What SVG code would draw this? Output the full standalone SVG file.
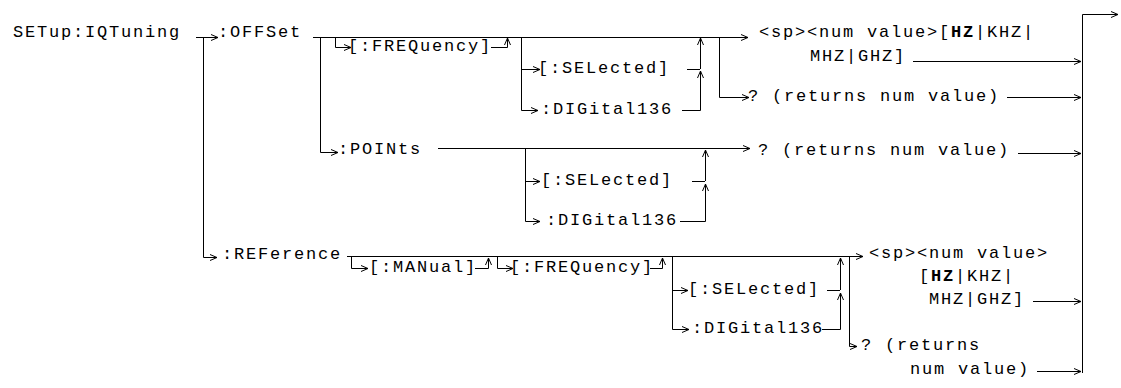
<svg xmlns="http://www.w3.org/2000/svg" width="1121" height="388" viewBox="0 0 1121 388">
<style>
text{font-family:"Liberation Mono","Courier New",monospace;font-size:17px;letter-spacing:1.8px;fill:#000}
.c path{fill:none;stroke:#000;stroke-width:1}
.b{font-weight:bold}
</style>
<defs>
<marker id="a" markerUnits="userSpaceOnUse" markerWidth="10" markerHeight="10" refX="7" refY="3.5" orient="auto">
<path d="M0,0.5 L7,3.5 L0,6.5" fill="none" stroke="#000" stroke-width="1"/>
</marker>
</defs>
<rect width="1121" height="388" fill="#fff"/>
<g class="c" id="connectors">
<path d="M196,37.5 H218" marker-end="url(#a)"/>
<path d="M203.5,37 V257.5 H217" marker-end="url(#a)"/>
<path d="M313,37.5 H748" marker-end="url(#a)"/>
<path d="M335.5,37 V47.5 H351" marker-end="url(#a)"/>
<path d="M491,47.5 H507.5 V38" marker-end="url(#a)"/>
<path d="M521.5,37 V110.5 H538" marker-end="url(#a)"/>
<path d="M521,69.5 H540" marker-end="url(#a)"/>
<path d="M687,69.5 H700"/>
<path d="M682,110.5 H700.5 V71" marker-end="url(#a)"/>
<path d="M700.5,69 V38" marker-end="url(#a)"/>
<path d="M719.5,37 V97.5 H749" marker-end="url(#a)"/>
<path d="M913,61.5 H1081" marker-end="url(#a)"/>
<path d="M1007,97.5 H1081" marker-end="url(#a)"/>
<path d="M1082.5,373 V14.5 H1118" marker-end="url(#a)"/>
<path d="M320.5,37 V152.5 H338" marker-end="url(#a)"/>
<path d="M438,148.5 H750" marker-end="url(#a)"/>
<path d="M525.5,148 V221.5 H540" marker-end="url(#a)"/>
<path d="M525,181.5 H540" marker-end="url(#a)"/>
<path d="M692,181.5 H705"/>
<path d="M680,221.5 H705.5 V184" marker-end="url(#a)"/>
<path d="M705.5,181 V150" marker-end="url(#a)"/>
<path d="M1018,153.5 H1081" marker-end="url(#a)"/>
<path d="M347,256.5 H863" marker-end="url(#a)"/>
<path d="M351.5,256 V268.5 H368" marker-end="url(#a)"/>
<path d="M475,268.5 H488.5 V258" marker-end="url(#a)"/>
<path d="M497.5,256 V268.5 H513" marker-end="url(#a)"/>
<path d="M650,268.5 H662.5 V258" marker-end="url(#a)"/>
<path d="M672.5,256 V329.5 H689" marker-end="url(#a)"/>
<path d="M672,290.5 H688" marker-end="url(#a)"/>
<path d="M827,290.5 H840"/>
<path d="M822,329.5 H840.5 V293" marker-end="url(#a)"/>
<path d="M840.5,290 V258" marker-end="url(#a)"/>
<path d="M849.5,256 V346.5 H857" marker-end="url(#a)"/>
<path d="M1033,301.5 H1081" marker-end="url(#a)"/>
<path d="M1037,371.5 H1081" marker-end="url(#a)"/>
</g>
<g id="n-setup"><text x="13" y="37">SETup:IQTuning</text></g>
<g id="n-offset"><text x="218" y="37">:OFFSet</text></g>
<g id="n-off-freq"><text x="348" y="51">[:FREQuency]</text></g>
<g id="n-off-sel"><text x="538" y="73">[:SELected]</text></g>
<g id="n-off-dig"><text x="541" y="114">:DIGital136</text></g>
<g id="n-off-set"><text x="759" y="37">&lt;sp&gt;&lt;num value&gt;[<tspan class="b">HZ</tspan>|KHZ|</text><text x="810" y="61">MHZ|GHZ]</text></g>
<g id="n-off-q"><text x="748" y="101">? (returns num value)</text></g>
<g id="n-points"><text x="338" y="154">:POINts</text></g>
<g id="n-pts-sel"><text x="541" y="185">[:SELected]</text></g>
<g id="n-pts-dig"><text x="546" y="225">:DIGital136</text></g>
<g id="n-pts-q"><text x="758" y="155">? (returns num value)</text></g>
<g id="n-ref"><text x="222" y="259">:REFerence</text></g>
<g id="n-ref-man"><text x="369" y="272">[:MANual]</text></g>
<g id="n-ref-freq"><text x="510" y="272">[:FREQuency]</text></g>
<g id="n-ref-sel"><text x="688" y="294">[:SELected]</text></g>
<g id="n-ref-dig"><text x="692" y="333">:DIGital136</text></g>
<g id="n-ref-set"><text x="869" y="258">&lt;sp&gt;&lt;num value&gt;</text><text x="919" y="281">[<tspan class="b">HZ</tspan>|KHZ|</text><text x="929" y="304">MHZ|GHZ]</text></g>
<g id="n-ref-q"><text x="861" y="350">? (returns</text><text x="910" y="374">num value)</text></g>
</svg>
